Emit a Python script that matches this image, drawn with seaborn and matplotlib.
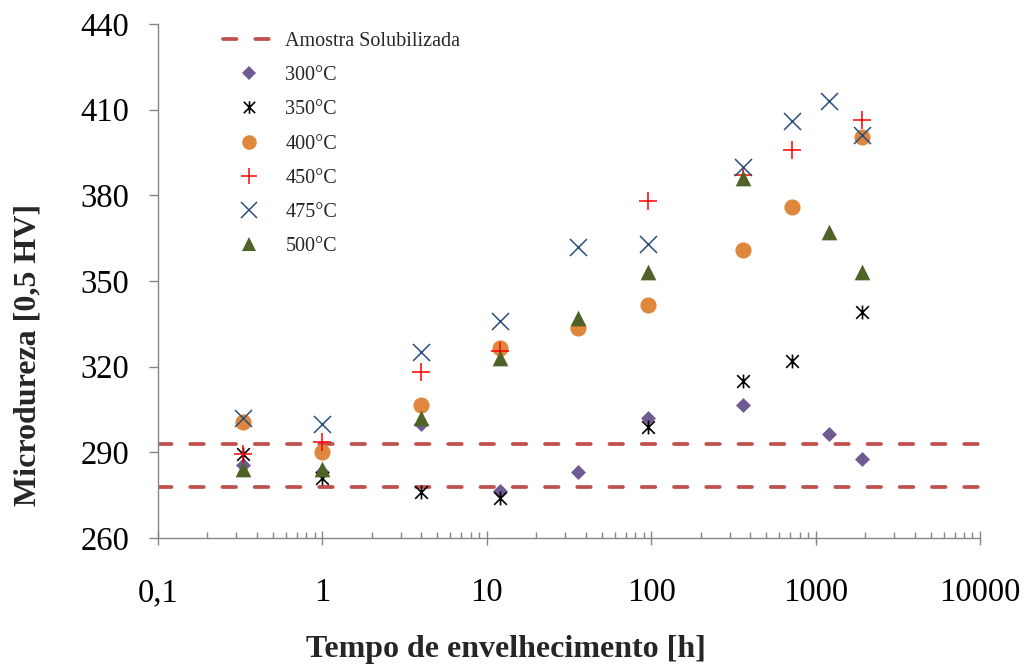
import numpy as np
import pandas as pd
import matplotlib
matplotlib.use("Agg")
import matplotlib.pyplot as plt
from matplotlib.path import Path
from matplotlib.lines import Line2D
from matplotlib.ticker import FixedLocator, FixedFormatter, LogLocator, NullFormatter
import seaborn as sns

# Aging time [h] and microhardness [HV 0.5] per aging temperature
t300 = [0.33, 1, 4, 12, 36, 96, 360, 1200, 1920]
hv300 = [285.5, 283, 300, 276.5, 283, 302, 306.5, 296.5, 287.5]

t350 = [0.33, 1, 4, 12, 96, 360, 720, 1920]
hv350 = [289.5, 281, 276, 274, 299, 315, 322, 339]

t400 = [0.33, 1, 4, 12, 36, 96, 360, 720, 1920]
hv400 = [300.5, 290, 306.5, 326.5, 333.5, 341.5, 361, 376, 400.5]

t450 = [0.33, 1, 4, 12, 96, 360, 720, 1920]
hv450 = [289.5, 293.5, 318, 325.5, 378, 387, 396, 406.5]

t475 = [0.33, 1, 4, 12, 36, 96, 360, 720, 1200, 1920]
hv475 = [302, 300, 325, 336, 362, 363, 390, 406, 413, 401]

t500 = [0.33, 1, 4, 12, 36, 96, 360, 1200, 1920]
hv500 = [284, 284, 302, 323, 337, 353, 386, 367, 353]

# Solution-treated reference band (upper and lower limits)
solub_limits = [293, 278]
solub_label = "Amostra Solubilizada"

series_labels = ["300°C", "350°C", "400°C", "450°C", "475°C", "500°C"]

x_ticks = [0.1, 1, 10, 100, 1000, 10000]
x_tick_labels = ["0,1", "1", "10", "100", "1000", "10000"]
y_ticks = [260, 290, 320, 350, 380, 410, 440]

sns.set_style("white")
plt.rcParams["font.family"] = ["Liberation Serif", "DejaVu Serif"]

W, H = 1032, 668
fig = plt.figure(figsize=(W / 100, H / 100), dpi=100)
ax = fig.add_axes([158 / W, 1 - 538 / H, 822 / W, 514 / H])

# asterisk marker: an X with a vertical stroke
ast_path = Path(
    [(-0.5, -0.5), (0.5, 0.5), (-0.5, 0.5), (0.5, -0.5), (0, -0.55), (0, 0.55)],
    [Path.MOVETO, Path.LINETO, Path.MOVETO, Path.LINETO, Path.MOVETO, Path.LINETO],
)

line_color = "#C0504D"
line_dashes = (3.6, 5.0)
for lim in solub_limits:
    df_l = pd.DataFrame({"t": [x_ticks[0], x_ticks[-1]], "hv": [lim, lim]})
    sns.lineplot(data=df_l, x="t", y="hv", ax=ax, color=line_color, linewidth=2.7,
                 zorder=1, legend=False)
for ln in ax.get_lines():
    ln.set_dashes(line_dashes)
    ln.set_dash_capstyle("round")

styles = [
    dict(marker="D", s=58, color="#6F5A94", linewidth=0),
    dict(marker=ast_path, s=100, color="#000000", linewidth=1.2),
    dict(marker="o", s=135, color="#DF873C", linewidth=0),
    dict(marker="+", s=170, color="#FF0000", linewidth=1.1),
    dict(marker="x", s=150, color="#2A4E7E", linewidth=1.1),
    dict(marker="^", s=128, color="#4F6228", linewidth=0),
]
data = [(t300, hv300), (t350, hv350), (t400, hv400), (t450, hv450), (t475, hv475), (t500, hv500)]

for (t, hv), st, lab in zip(data, styles, series_labels):
    df = pd.DataFrame({"t": t, "hv": hv})
    kw = dict(st)
    col = kw.pop("color")
    sns.scatterplot(data=df, x="t", y="hv", ax=ax, color=col, edgecolor=col,
                    zorder=3, legend=False, **kw)

ax.set_xscale("log")
ax.set_xlim(0.1, 10000)
ax.set_ylim(260, 440)
ax.set_xlabel("")
ax.set_ylabel("")

ax.xaxis.set_major_locator(FixedLocator(x_ticks))
ax.xaxis.set_major_formatter(FixedFormatter(x_tick_labels))
ax.xaxis.set_minor_locator(LogLocator(base=10, subs=np.arange(2, 10)))
ax.xaxis.set_minor_formatter(NullFormatter())
ax.set_yticks(y_ticks)
ax.set_yticklabels([str(v) for v in y_ticks])

spine_col = "#868686"
for side in ["top", "right"]:
    ax.spines[side].set_visible(False)
for side in ["left", "bottom"]:
    ax.spines[side].set_color(spine_col)
    ax.spines[side].set_linewidth(1.0)

ax.tick_params(axis="x", which="major", direction="inout", length=9.5, width=1.0,
               color=spine_col, labelsize=23.5, pad=24, bottom=True)
ax.tick_params(axis="x", which="minor", direction="in", length=4.5, width=1.0,
               color=spine_col, bottom=True)
ax.tick_params(axis="y", which="major", direction="out", length=6.5, width=1.0,
               color=spine_col, labelsize=23.5, pad=14, left=True)
for lbl in ax.get_xticklabels() + ax.get_yticklabels():
    lbl.set_color("#000000")

fig.text(506 / W, 1 - 649 / H, "Tempo de envelhecimento [h]", ha="center", va="center",
         fontsize=23, fontweight="bold")
fig.text(28 / W, 1 - 355 / H, "Microdureza [0,5 HV]", ha="center", va="center",
         fontsize=23, fontweight="bold", rotation=90)

# legend
handles = [Line2D([0], [0], color=line_color, linewidth=2.7, dashes=line_dashes,
                  dash_capstyle="round")]
for st in styles:
    ms = np.sqrt(st["s"]) * 0.9
    if st["marker"] is ast_path or st["marker"] in ("+", "x"):
        h = Line2D([0], [0], linestyle="none", marker=st["marker"], markersize=ms,
                   markeredgecolor=st["color"], markerfacecolor="none",
                   markeredgewidth=st["linewidth"])
    else:
        h = Line2D([0], [0], linestyle="none", marker=st["marker"], markersize=ms,
                   markerfacecolor=st["color"], markeredgewidth=0)
    handles.append(h)

leg = ax.legend(handles, [solub_label] + series_labels, loc="upper left",
                bbox_to_anchor=(223 / W, 1 - 32 / H), bbox_transform=fig.transFigure,
                frameon=False, fontsize=14.5, handlelength=2.6, handletextpad=0.5,
                labelspacing=0.75, borderpad=0, borderaxespad=0)

fig.savefig("out.png", dpi=100, facecolor="white")
